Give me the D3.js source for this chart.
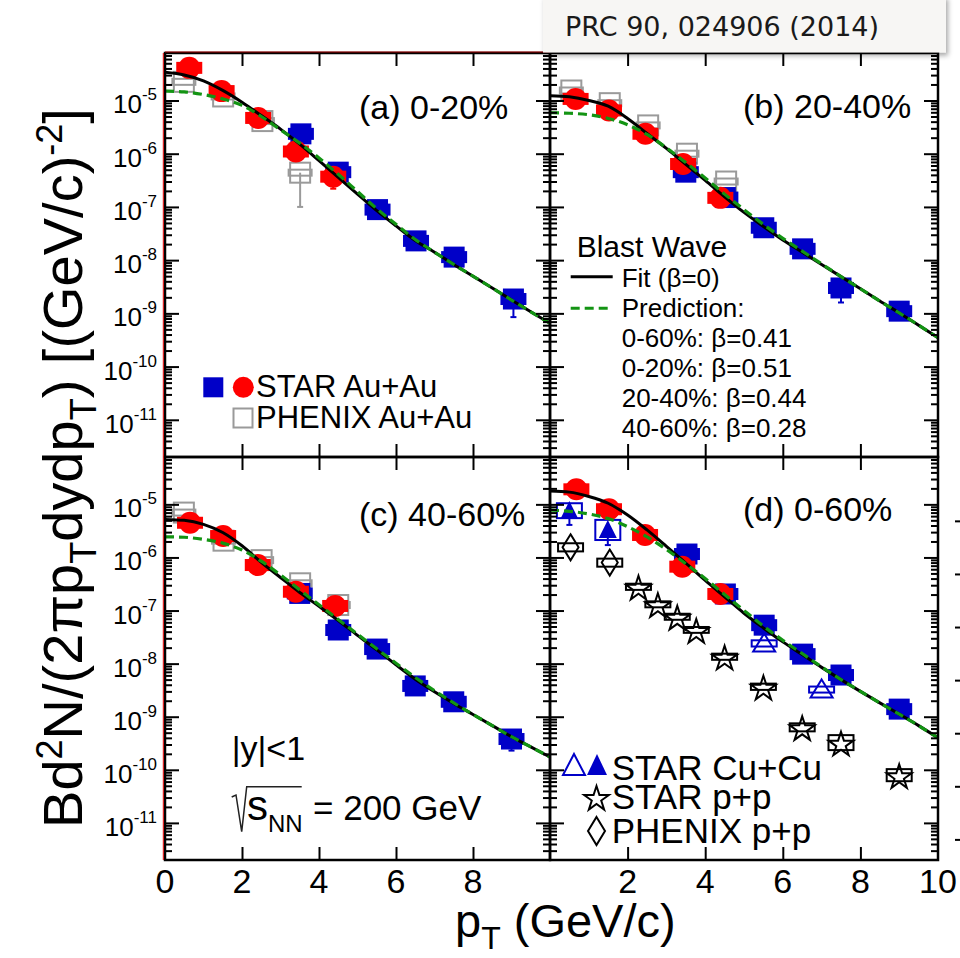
<!DOCTYPE html>
<html>
<head>
<meta charset="utf-8">
<script src="https://cdn.jsdelivr.net/npm/d3@7/dist/d3.min.js"></script>
<style>
  html, body { margin: 0; padding: 0; background: #fff; }
  svg { display: block; }
</style>
</head>
<body>
<svg id="chart" width="960" height="958"></svg>
<script>
// ---------------- data ----------------
const xMajorTicks = [2, 4, 6, 8];
const leftPtLabels = [0, 2, 4, 6, 8];
const rightPtLabels = [2, 4, 6, 8, 10];
const decadeExponents = [-5, -6, -7, -8, -9, -10, -11];

// blast-wave curves sampled in pT (GeV/c)
const curvePt = [0, 0.5, 1, 1.5, 2, 2.5, 3, 3.5, 4, 4.5, 5, 5.5, 6, 6.5, 7, 7.5, 8, 8.5, 9, 9.5, 10];
const fitA  = [3.39e-5, 3.02e-5, 2.34e-5, 1.55e-5, 9.3e-6, 5.2e-6, 2.9e-6, 1.51e-6, 7.4e-7, 3.6e-7, 1.74e-7, 8.5e-8, 4.4e-8, 2.34e-8, 1.41e-8, 8.3e-9, 5.0e-9, 3.0e-9, 1.78e-9, 1.07e-9, 6.5e-10];
const predA = [1.5e-5, 1.45e-5, 1.29e-5, 1.07e-5, 8.1e-6, 5.0e-6, 2.8e-6, 1.58e-6, 8.3e-7, 4.1e-7, 1.95e-7, 9.3e-8, 4.7e-8, 2.45e-8, 1.41e-8, 8.3e-9, 5.0e-9, 3.0e-9, 1.78e-9, 1.07e-9, 6.5e-10];
const fitB  = [1.23e-5, 1.17e-5, 1.0e-5, 7.8e-6, 4.6e-6, 2.4e-6, 1.26e-6, 6.3e-7, 3.16e-7, 1.55e-7, 7.9e-8, 4.3e-8, 2.4e-8, 1.41e-8, 8.3e-9, 4.9e-9, 2.9e-9, 1.7e-9, 1.02e-9, 6.0e-10, 3.5e-10];
const predB = [5.9e-6, 5.75e-6, 5.4e-6, 4.6e-6, 3.5e-6, 2.3e-6, 1.29e-6, 6.8e-7, 3.5e-7, 1.74e-7, 8.9e-8, 4.7e-8, 2.57e-8, 1.48e-8, 8.5e-9, 4.9e-9, 2.9e-9, 1.7e-9, 1.02e-9, 6.0e-10, 3.5e-10];
const fitC  = [5.2e-6, 5.0e-6, 4.2e-6, 2.95e-6, 1.66e-6, 8.1e-7, 4.2e-7, 2.19e-7, 1.2e-7, 6.5e-8, 3.4e-8, 1.82e-8, 9.5e-9, 5.1e-9, 2.95e-9, 1.78e-9, 1.1e-9, 6.8e-10, 4.2e-10, 2.7e-10, 1.74e-10];
const predC = [2.45e-6, 2.4e-6, 2.19e-6, 1.86e-6, 1.38e-6, 8.5e-7, 4.7e-7, 2.45e-7, 1.29e-7, 6.8e-8, 3.6e-8, 1.9e-8, 1.02e-8, 5.5e-9, 3.1e-9, 1.82e-9, 1.1e-9, 6.8e-10, 4.2e-10, 2.7e-10, 1.74e-10];
const fitD  = [1.78e-5, 1.7e-5, 1.41e-5, 1.05e-5, 6.3e-6, 3.3e-6, 1.62e-6, 7.8e-7, 3.7e-7, 1.82e-7, 8.9e-8, 4.7e-8, 2.57e-8, 1.48e-8, 8.5e-9, 5.0e-9, 3.0e-9, 1.82e-9, 1.12e-9, 6.8e-10, 4.0e-10];
const predD = [7.8e-6, 7.4e-6, 6.6e-6, 5.4e-6, 3.8e-6, 2.45e-6, 1.41e-6, 7.6e-7, 4.0e-7, 2.0e-7, 1.0e-7, 5.1e-8, 2.75e-8, 1.55e-8, 8.7e-9, 5.0e-9, 3.0e-9, 1.82e-9, 1.12e-9, 6.8e-10, 4.0e-10];

// STAR Au+Au: [pT, yield, lower error end (optional)]
const starCirclesA = [[0.63, 4.1e-5], [1.47, 1.5e-5], [2.42, 4.7e-6], [3.40, 1.1e-6], [4.37, 3.7e-7, 2.2e-7]];
const starSquaresA = [[3.53, 2.36e-6], [4.5, 4.5e-7], [5.52, 8.9e-8], [6.52, 2.3e-8], [7.51, 1.14e-8], [9.05, 1.86e-9, 8.5e-10]];
const phenixAuAuA  = [[0.49, 2.24e-5], [1.51, 1.19e-5], [2.53, 4.1e-6], [3.51, 4.4e-7, 1.0e-7]];

const starCirclesB = [[0.66, 1.07e-5], [1.52, 6.5e-6], [2.46, 2.37e-6], [3.43, 6.4e-7], [4.39, 1.48e-7]];
const starSquaresB = [[3.5, 4.5e-7], [4.52, 1.5e-7], [5.51, 4.06e-8], [6.51, 1.63e-8], [7.5, 3.0e-9, 1.6e-9], [9.0, 1.1e-9]];
const phenixAuAuB  = [[0.55, 1.54e-5], [1.54, 8.9e-6], [2.53, 3.4e-6], [3.53, 1.0e-6], [4.54, 3.0e-7]];

const starCirclesC = [[0.65, 4.5e-6], [1.51, 2.53e-6], [2.41, 7.2e-7], [3.4, 2.26e-7], [4.42, 1.22e-7]];
const starSquaresC = [[3.5, 2.1e-7], [4.5, 4.3e-8], [5.51, 1.88e-8], [6.5, 3.8e-9], [7.5, 1.91e-9], [9.0, 3.8e-10, 2.3e-10]];
const phenixAuAuC  = [[0.49, 7.0e-6], [1.52, 2.07e-6], [2.51, 8.9e-7], [3.51, 3.26e-7], [4.5, 1.27e-7]];

const starCirclesD = [[0.68, 1.92e-5], [1.52, 8.1e-6], [2.45, 2.65e-6], [3.41, 6.7e-7], [4.39, 2.05e-7]];
const starSquaresD = [[3.53, 1.16e-6], [4.52, 2.05e-7], [5.52, 5.3e-8], [6.51, 1.51e-8], [7.5, 6.1e-9], [9.0, 1.39e-9]];

// Cu+Cu, p+p in panel (d): [pT, yield, sys low, sys high, stat low (optional)]
const cuCuFilled = [[0.5, 7.5e-6, 5.5e-6, 1.05e-5, 4.1e-6], [1.49, 3.3e-6, 2.13e-6, 5.1e-6, 1.71e-6]];
const cuCuOpen   = [[5.52, 2.4e-8, 2.1e-8, 2.75e-8], [7.0, 3.25e-9, 2.85e-9, 3.7e-9]];
const phenixPP   = [[0.53, 1.55e-6, 1.3e-6, 1.85e-6], [1.54, 8.0e-7, 6.7e-7, 9.5e-7]];
const starPP     = [[2.28, 2.8e-7, 2.45e-7, 3.2e-7], [2.78, 1.31e-7, 1.15e-7, 1.49e-7], [3.28, 7.6e-8, 6.7e-8, 8.7e-8],
                    [3.77, 4.3e-8, 3.8e-8, 4.9e-8], [4.5, 1.35e-8, 1.18e-8, 1.54e-8], [5.5, 3.67e-9, 3.2e-9, 4.2e-9],
                    [6.5, 6.3e-10, 5.3e-10, 7.5e-10], [7.5, 3.24e-10, 2.35e-10, 4.5e-10], [9.0, 7.9e-11, 6.1e-11, 1.03e-10]];

const panelLabels = ["(a) 0-20%", "(b) 20-40%", "(c) 40-60%", "(d) 0-60%"];
const betaLines = ["0-60%: β=0.41", "0-20%: β=0.51", "20-40%: β=0.44", "40-60%: β=0.28"];

// ---------------- drawing ----------------
const svg = d3.select('#chart');
const FONT = "'Liberation Sans', Arial, Helvetica, sans-serif";
const RED = '#ff0000', BLUE = '#0000c8', GREY = '#9a9a9a', GREEN = '#139413';
const yDomain = [2e-12, 7.8e-5];

const defs = svg.append('defs');
defs.append('filter').attr('id', 'shadow')
  .attr('x', '-5%').attr('y', '-20%').attr('width', '115%').attr('height', '160%')
  .append('feDropShadow').attr('dx', 2).attr('dy', 3).attr('stdDeviation', 2.5)
  .attr('flood-color', '#000').attr('flood-opacity', 0.35);

const layout = [
  { x0: 165, x1: 550, y0: 53, y1: 457 },
  { x0: 550, x1: 938, y0: 53, y1: 457 },
  { x0: 165, x1: 550, y0: 457, y1: 860 },
  { x0: 550, x1: 938, y0: 457, y1: 860 }
];
const series = [
  { fit: fitA, pred: predA, circles: starCirclesA, squares: starSquaresA, phenix: phenixAuAuA },
  { fit: fitB, pred: predB, circles: starCirclesB, squares: starSquaresB, phenix: phenixAuAuB },
  { fit: fitC, pred: predC, circles: starCirclesC, squares: starSquaresC, phenix: phenixAuAuC },
  { fit: fitD, pred: predD, circles: starCirclesD, squares: starSquaresD, phenix: [] }
];

const minorValues = [];
for (let e = -12; e <= -5; e++) {
  for (let k = 2; k <= 9; k++) {
    const v = k * Math.pow(10, e);
    if (v > yDomain[0] && v < yDomain[1]) minorValues.push(v);
  }
}
const majorValues = decadeExponents.map(e => Math.pow(10, e));

const starPath = d3.symbol().type(d3.symbolStar).size(190)();
const diamondPath = 'M0,-13L8,0L0,13L-8,0Z';
const triPath = 'M0,-10L9,8L-9,8Z';
const openTriPath = 'M0,-10L11,8L-11,8Z';

function errorBar(g, x, y, pt, v, lo, color) {
  const px = x(pt);
  g.append('line').attr('x1', px).attr('x2', px).attr('y1', y(v)).attr('y2', y(lo))
    .attr('stroke', color).attr('stroke-width', 2);
  g.append('line').attr('x1', px - 3).attr('x2', px + 3).attr('y1', y(lo)).attr('y2', y(lo))
    .attr('stroke', color).attr('stroke-width', 2);
}

function sysBox(g, x, y, d, color, w) {
  g.append('rect').attr('x', x(d[0]) - w / 2).attr('y', y(d[3]))
    .attr('width', w).attr('height', Math.max(3, y(d[2]) - y(d[3])))
    .attr('fill', 'none').attr('stroke', color).attr('stroke-width', 2);
}

layout.forEach((p, i) => {
  const x = d3.scaleLinear().domain([0, 10]).range([p.x0, p.x1]);
  const y = d3.scaleLog().domain(yDomain).range([p.y1, p.y0]);
  p.x = x; p.y = y;
  const s = series[i];
  const g = svg.append('g');

  const clipId = 'clip' + i;
  defs.append('clipPath').attr('id', clipId).append('rect')
    .attr('x', p.x0).attr('y', p.y0).attr('width', p.x1 - p.x0).attr('height', p.y1 - p.y0);

  // PHENIX Au+Au: open grey squares with systematic bar
  s.phenix.forEach(d => {
    if (d[2]) errorBar(g, x, y, d[0], d[1], d[2], GREY);
    g.append('rect').attr('x', x(d[0]) - 10).attr('y', y(d[1]) - 10).attr('width', 20).attr('height', 20)
      .attr('fill', 'none').attr('stroke', GREY).attr('stroke-width', 2);
    g.append('rect').attr('x', x(d[0]) - 11.5).attr('y', y(d[1]) - 3).attr('width', 23).attr('height', 6)
      .attr('fill', 'none').attr('stroke', GREY).attr('stroke-width', 2);
  });

  if (i === 3) {
    phenixPP.forEach(d => {
      g.append('path').attr('d', diamondPath).attr('transform', `translate(${x(d[0])},${y(d[1])})`)
        .attr('fill', 'none').attr('stroke', '#000').attr('stroke-width', 2);
      sysBox(g, x, y, d, '#000', 25);
    });
    starPP.forEach(d => {
      g.append('path').attr('d', starPath).attr('transform', `translate(${x(d[0])},${y(d[1]) + 2})`)
        .attr('fill', 'none').attr('stroke', '#000').attr('stroke-width', 2);
      sysBox(g, x, y, d, '#000', 25);
    });
    cuCuOpen.forEach(d => {
      g.append('path').attr('d', openTriPath).attr('transform', `translate(${x(d[0])},${y(d[1])})`)
        .attr('fill', 'none').attr('stroke', BLUE).attr('stroke-width', 2);
      sysBox(g, x, y, d, BLUE, 25);
    });
    cuCuFilled.forEach(d => {
      errorBar(g, x, y, d[0], d[1], d[4], BLUE);
      sysBox(g, x, y, d, BLUE, 25);
      g.append('path').attr('d', triPath).attr('transform', `translate(${x(d[0])},${y(d[1])})`)
        .attr('fill', BLUE);
    });
  }

  // STAR Au+Au high-pT: filled blue squares
  s.squares.forEach(d => {
    if (d[2]) errorBar(g, x, y, d[0], d[1], d[2], BLUE);
    g.append('rect').attr('x', x(d[0]) - 13).attr('y', y(d[1]) - 6).attr('width', 26).attr('height', 12).attr('fill', BLUE);
    g.append('rect').attr('x', x(d[0]) - 10.5).attr('y', y(d[1]) - 10.5).attr('width', 21).attr('height', 21).attr('fill', BLUE);
  });
  // STAR Au+Au low-pT: filled red circles
  s.circles.forEach(d => {
    if (d[2]) errorBar(g, x, y, d[0], d[1], d[2], RED);
    g.append('rect').attr('x', x(d[0]) - 13).attr('y', y(d[1]) - 6).attr('width', 26).attr('height', 12).attr('fill', RED);
    g.append('circle').attr('cx', x(d[0])).attr('cy', y(d[1])).attr('r', 11).attr('fill', RED);
  });

  // blast-wave curves
  const line = d3.line().x(d => x(d[0])).y(d => y(d[1])).curve(d3.curveMonotoneX);
  const cg = g.append('g').attr('clip-path', `url(#${clipId})`);
  cg.append('path').attr('d', line(d3.zip(curvePt, s.fit)))
    .attr('fill', 'none').attr('stroke', '#000').attr('stroke-width', 3);
  cg.append('path').attr('d', line(d3.zip(curvePt, s.pred)))
    .attr('fill', 'none').attr('stroke', GREEN).attr('stroke-width', 3.2).attr('stroke-dasharray', '9,5');

  // ticks on all four sides, pointing inward
  const tickStyle = sel => {
    sel.select('.domain').remove();
    sel.selectAll('line').attr('stroke', '#000').attr('stroke-width', 2);
  };
  g.append('g').attr('transform', `translate(0,${p.y1})`)
    .call(d3.axisBottom(x).tickValues(xMajorTicks).tickSize(-13).tickFormat('')).call(tickStyle);
  g.append('g').attr('transform', `translate(0,${p.y0})`)
    .call(d3.axisTop(x).tickValues(xMajorTicks).tickSize(-13).tickFormat('')).call(tickStyle);
  [[d3.axisLeft, p.x0], [d3.axisRight, p.x1]].forEach(([ax, px]) => {
    g.append('g').attr('transform', `translate(${px},0)`)
      .call(ax(y).tickValues(majorValues).tickSize(-14).tickFormat('')).call(tickStyle);
    g.append('g').attr('transform', `translate(${px},0)`)
      .call(ax(y).tickValues(minorValues).tickSize(-7).tickFormat('')).call(tickStyle);
  });

  g.append('rect').attr('x', p.x0).attr('y', p.y0).attr('width', p.x1 - p.x0).attr('height', p.y1 - p.y0)
    .attr('fill', 'none').attr('stroke', '#000').attr('stroke-width', 2.5);
});

// thin red rule along the outer left edge and the top of panel (a)
svg.append('line').attr('x1', 163.3).attr('x2', 163.3).attr('y1', 53).attr('y2', 860)
  .attr('stroke', '#e00000').attr('stroke-width', 1);
svg.append('line').attr('x1', 165).attr('x2', 550).attr('y1', 52).attr('y2', 52)
  .attr('stroke', '#a00000').attr('stroke-width', 1.2);

// y tick labels (left column)
[layout[0], layout[2]].forEach(p => {
  decadeExponents.forEach(e => {
    const t = svg.append('text').attr('x', 157).attr('y', p.y(Math.pow(10, e)) + 13)
      .attr('text-anchor', 'end').attr('font-family', FONT).attr('font-size', 26).text('10');
    t.append('tspan').attr('dy', -13).attr('font-size', 17).text(String(e));
  });
});

// x tick labels
leftPtLabels.forEach(v => {
  svg.append('text').attr('x', layout[2].x(v)).attr('y', 893).attr('text-anchor', 'middle')
    .attr('font-family', FONT).attr('font-size', 34).text(v);
});
rightPtLabels.forEach(v => {
  svg.append('text').attr('x', layout[3].x(v)).attr('y', 893).attr('text-anchor', 'middle')
    .attr('font-family', FONT).attr('font-size', 34).text(v);
});

// cut-off tick marks of the neighbouring frame
decadeExponents.forEach(e => {
  const yy = layout[3].y(Math.pow(10, e)) + 17;
  svg.append('line').attr('x1', 955).attr('x2', 963).attr('y1', yy).attr('y2', yy)
    .attr('stroke', '#000').attr('stroke-width', 2);
});

// axis titles
const xt = svg.append('text').attr('x', 455).attr('y', 937).attr('font-family', FONT).attr('font-size', 47);
xt.append('tspan').text('p');
xt.append('tspan').attr('dy', 12).attr('font-size', 32).text('T');
xt.append('tspan').attr('dy', -12).text(' (GeV/c)');

const yt = svg.append('text').attr('transform', 'translate(82,468) rotate(-90)')
  .attr('text-anchor', 'middle').attr('font-family', FONT).attr('font-size', 56);
yt.append('tspan').text('Bd');
yt.append('tspan').attr('dy', -20).attr('font-size', 36).text('2');
yt.append('tspan').attr('dy', 20).text('N/(2πp');
yt.append('tspan').attr('dy', 14).attr('font-size', 36).text('T');
yt.append('tspan').attr('dy', -14).text('dydp');
yt.append('tspan').attr('dy', 14).attr('font-size', 36).text('T');
yt.append('tspan').attr('dy', -14).text(') [(GeV/c)');
yt.append('tspan').attr('dy', -20).attr('font-size', 36).text('-2');
yt.append('tspan').attr('dy', 20).text(']');

// panel labels
[[359, 119], [743, 118], [359, 526], [743, 521]].forEach(([px, py], i) => {
  svg.append('text').attr('x', px).attr('y', py).attr('font-family', FONT).attr('font-size', 34).text(panelLabels[i]);
});

// legend, panel (a)
svg.append('rect').attr('x', 203.3).attr('y', 377.3).attr('width', 20).attr('height', 20).attr('fill', BLUE);
svg.append('circle').attr('cx', 243.3).attr('cy', 387.3).attr('r', 10.5).attr('fill', RED);
svg.append('text').attr('x', 256).attr('y', 396.7).attr('font-family', FONT).attr('font-size', 31).text('STAR Au+Au');
svg.append('rect').attr('x', 233.5).attr('y', 408.5).attr('width', 19).attr('height', 19)
  .attr('fill', 'none').attr('stroke', GREY).attr('stroke-width', 2);
svg.append('text').attr('x', 256).attr('y', 428.3).attr('font-family', FONT).attr('font-size', 31).text('PHENIX Au+Au');

// legend, panel (b)
svg.append('text').attr('x', 576.7).attr('y', 256.7).attr('font-family', FONT).attr('font-size', 30).text('Blast Wave');
svg.append('line').attr('x1', 570.7).attr('x2', 612.7).attr('y1', 276.7).attr('y2', 276.7).attr('stroke', '#000').attr('stroke-width', 3);
svg.append('text').attr('x', 621.7).attr('y', 286.7).attr('font-family', FONT).attr('font-size', 26).text('Fit (β=0)');
svg.append('line').attr('x1', 570.7).attr('x2', 612.7).attr('y1', 308.3).attr('y2', 308.3)
  .attr('stroke', GREEN).attr('stroke-width', 3).attr('stroke-dasharray', '9,5');
svg.append('text').attr('x', 621.7).attr('y', 316.7).attr('font-family', FONT).attr('font-size', 26).text('Prediction:');
[346.7, 376.7, 407.3, 437.3].forEach((py, i) => {
  svg.append('text').attr('x', 621.7).attr('y', py).attr('font-family', FONT).attr('font-size', 26).text(betaLines[i]);
});

// legend, panel (d)
svg.append('path').attr('d', 'M0,-11L11,10L-11,10Z').attr('transform', 'translate(574,765)')
  .attr('fill', 'none').attr('stroke', BLUE).attr('stroke-width', 2);
svg.append('path').attr('d', 'M0,-11L10,10L-10,10Z').attr('transform', 'translate(597,765)').attr('fill', BLUE);
svg.append('text').attr('x', 611.7).attr('y', 780).attr('font-family', FONT).attr('font-size', 35).text('STAR Cu+Cu');
svg.append('path').attr('d', starPath).attr('transform', 'translate(596.5,799)')
  .attr('fill', 'none').attr('stroke', '#000').attr('stroke-width', 2);
svg.append('text').attr('x', 611.7).attr('y', 809).attr('font-family', FONT).attr('font-size', 35).text('STAR p+p');
svg.append('path').attr('d', 'M0,-14L8.5,0L0,14L-8.5,0Z').attr('transform', 'translate(596.5,831)')
  .attr('fill', 'none').attr('stroke', '#000').attr('stroke-width', 2);
svg.append('text').attr('x', 611.7).attr('y', 843).attr('font-family', FONT).attr('font-size', 35).text('PHENIX p+p');

// annotations, panel (c)
svg.append('text').attr('x', 231.7).attr('y', 760).attr('font-family', FONT).attr('font-size', 34).text('|y|<1');
svg.append('path').attr('d', 'M231.7,797L236,795L241.7,831.7L246.7,786.7L301.7,786.7')
  .attr('fill', 'none').attr('stroke', '#222').attr('stroke-width', 1.5);
svg.append('text').attr('x', 247).attr('y', 820).attr('font-family', FONT).attr('font-size', 42).text('s');
svg.append('text').attr('x', 268).attr('y', 831.7).attr('font-family', FONT).attr('font-size', 24).text('NN');
svg.append('text').attr('x', 313).attr('y', 820).attr('font-family', FONT).attr('font-size', 35).text('= 200 GeV');

// citation banner
svg.append('rect').attr('x', 543).attr('y', -4).attr('width', 403).attr('height', 56.5)
  .attr('fill', '#f7f6f4').attr('filter', 'url(#shadow)');
svg.append('text').attr('x', 565).attr('y', 36).attr('font-family', "'DejaVu Sans', Verdana, sans-serif")
  .attr('font-size', 27).attr('fill', '#1a1a1a').text('PRC 90, 024906 (2014)');
</script>
</body>
</html>
